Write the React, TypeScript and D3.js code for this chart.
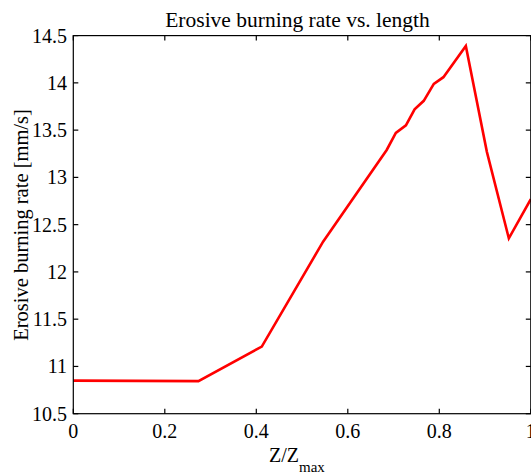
import React from "react";
import * as d3 from "d3";

const zValues = [0, 0.2735, 0.412, 0.546, 0.685, 0.705, 0.727, 0.746, 0.766, 0.788, 0.809, 0.858, 0.904, 0.952, 1.0];
const rateValues = [10.85, 10.845, 11.21, 12.32, 13.29, 13.47, 13.55, 13.72, 13.81, 13.99, 14.06, 14.39, 13.27, 12.355, 12.77];
const xTicks = [0, 0.2, 0.4, 0.6, 0.8, 1];
const yTicks = [10.5, 11, 11.5, 12, 12.5, 13, 13.5, 14, 14.5];

const W = 531, H = 474;
const left = 73.3, right = 530.8, top = 35.6, bottom = 413.7;
const font = "'Liberation Serif', 'Times New Roman', serif";

export default function App() {
  const x = d3.scaleLinear().domain([0, 1]).range([left, right]);
  const y = d3.scaleLinear().domain([10.5, 14.5]).range([bottom, top]);
  const line = d3.line<number>().x((_, i) => x(zValues[i])).y((d) => y(d));
  const path = line(rateValues) || "";
  const tl = 5;
  return (
    <svg width={W} height={H} style={{ position: "absolute", left: 0, top: 0, background: "#fff" }}>
      <rect x={0} y={0} width={W} height={H} fill="#fff" />
      <path d={path} fill="none" stroke="#ff0000" strokeWidth={2.6} strokeLinejoin="miter" />
      <rect x={left} y={top} width={right - left} height={bottom - top} fill="none" stroke="#000" strokeWidth={1.2} />
      {xTicks.map((t) => (
        <g key={"x" + t}>
          <line x1={x(t)} x2={x(t)} y1={bottom} y2={bottom - tl} stroke="#000" strokeWidth={1.2} />
          <line x1={x(t)} x2={x(t)} y1={top} y2={top + tl} stroke="#000" strokeWidth={1.2} />
          <text x={x(t)} y={438} textAnchor="middle" fontFamily={font} fontSize={20} fill="#000">{t}</text>
        </g>
      ))}
      {yTicks.map((t) => (
        <g key={"y" + t}>
          <line x1={left} x2={left + tl} y1={y(t)} y2={y(t)} stroke="#000" strokeWidth={1.2} />
          <line x1={right} x2={right - tl} y1={y(t)} y2={y(t)} stroke="#000" strokeWidth={1.2} />
          <text x={67} y={y(t)} dy="0.35em" textAnchor="end" fontFamily={font} fontSize={20} fill="#000">{t}</text>
        </g>
      ))}
      <text x={297.5} y={27} textAnchor="middle" fontFamily={font} fontSize={21.5} fill="#000">Erosive burning rate vs. length</text>
      <text x={269} y={462} fontFamily={font} fontSize={20} fill="#000">
        Z/Z<tspan fontSize={15} dy={10}>max</tspan>
      </text>
      <text transform={`translate(28,225) rotate(-90)`} textAnchor="middle" fontFamily={font} fontSize={20.5} fill="#000">Erosive burning rate [mm/s]</text>
    </svg>
  );
}
